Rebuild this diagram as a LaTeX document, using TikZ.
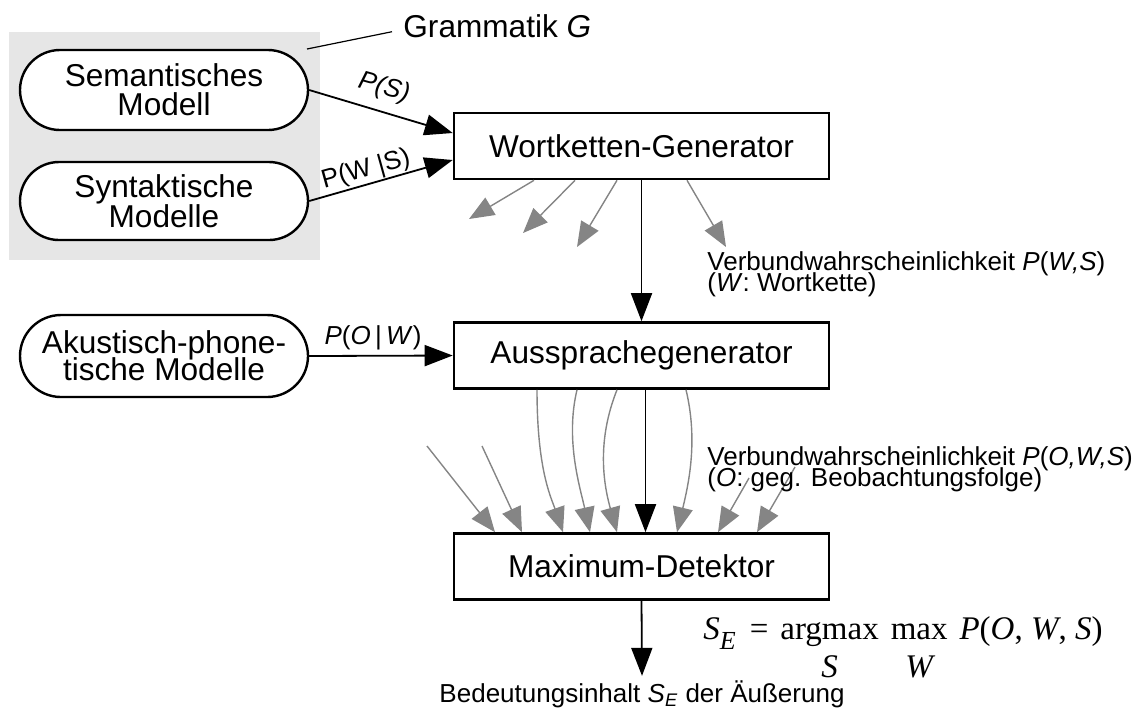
\documentclass[tikz,border=0pt]{standalone}
\usepackage{fontspec}
\setmainfont{Liberation Sans}
\newfontfamily\serifmath{Liberation Serif}
\usetikzlibrary{arrows.meta,calc,shapes.misc}
\definecolor{bggray}{HTML}{E6E6E6}
\definecolor{arrgray}{HTML}{858585}
\newcommand{\opsub}[2]{\setbox0\hbox{#1}\rlap{\hbox to \wd0{\hss\raisebox{-19pt}{\itshape #2}\hss}}\box0}
\newcommand{\tightlines}{\lineskiplimit=-30pt\lineskip=0pt}
\begin{document}
\begin{tikzpicture}[x=0.5pt,y=-0.5pt,
  model/.style={draw,fill=white,line width=1.2pt,shape=rounded rectangle,minimum width=144pt,inner sep=0pt,align=center},
  procbox/.style={draw,fill=white,line width=1.3pt,minimum width=187.5pt,minimum height=33pt,inner sep=0pt,
    font=\fontsize{15.8pt}{18pt}\selectfont},
  lbl/.style={inner sep=0pt,align=left,font=\fontsize{13pt}{10.6pt}\selectfont\tightlines},
  plabel/.style={inner sep=0pt,font=\fontsize{13pt}{15pt}\selectfont},
  blackarrow/.style={line width=0.9pt,-{Triangle[length=14pt,width=10.5pt]}},
  grayarrow/.style={draw=arrgray,line width=0.7pt,-{Triangle[length=12.5pt,width=10pt,fill=arrgray]}}]
\useasboundingbox (0,0) rectangle (1143,709);
% grammar background
\fill[bggray] (9,32) rectangle (320,260);
\node[inner sep=0pt,anchor=base west,font=\fontsize{15.8pt}{18pt}\selectfont] (gram) at (403,37) {Grammatik \textit{G}};
\coordinate (gcorner) at (307,49);
\draw[line width=0.6pt] (gcorner) -- ([xshift=-5.5pt,yshift=-3pt]gram.west);
% models
\node[model,minimum height=40pt,font=\fontsize{15.8pt}{14.5pt}\selectfont\tightlines] (sem) at (164,90) {Semantisches\\Modell};
\node[model,minimum height=39pt,font=\fontsize{15.8pt}{15pt}\selectfont\tightlines] (syn) at (164,201) {Syntaktische\\Modelle};
\node[model,minimum height=41pt,font=\fontsize{15.8pt}{13.6pt}\selectfont\tightlines] (ak) at (164,356) {Akustisch-phone-\\tische Modelle};
% process boxes
\node[procbox] (wort) at (641.5,146) {Wortketten-Generator};
\node[procbox] (aus) at (641.5,355.5) {Aussprachegenerator};
\node[procbox] (max) at (641.5,566.5) {Maximum-Detektor};
% input arrows
\draw[blackarrow] (sem.east) -- ([yshift=6.5pt]wort.west);
\draw[blackarrow] (syn.east) -- ([yshift=-7pt]wort.west);
\draw[blackarrow] (ak.east) -- (aus.west);
\node[plabel,rotate=-15.5] (ps) at (384,88) {\textit{P(S)}};
\node[plabel,rotate=15.5] (pws) at (366,170) {P(W |S)};
\node[plabel] (pow) at (373,338) {\textit{P}(\textit{O}\,|\,\textit{W})};
% main chain
\draw[blackarrow] (wort.south) -- (aus.north);
\draw[blackarrow] ([xshift=2pt]aus.south) -- ([xshift=2pt]max.north);
% gray arrows from Wortketten-Generator
\coordinate (w1) at (469,219);
\coordinate (w2) at (523,233);
\coordinate (w3) at (577,247);
\coordinate (w4) at (726,247);
\draw[grayarrow] ($(wort.south)+(-107.5,0)$) -- (w1);
\draw[grayarrow] ($(wort.south)+(-66.5,0)$) -- (w2);
\draw[grayarrow] ($(wort.south)+(-24.5,0)$) -- (w3);
\draw[grayarrow] ($(wort.south)+(45.5,0)$) -- (w4);
\node[lbl,anchor=north west] (vw1) at (707,251) {Verbundwahrscheinlichkeit \textit{P}(\textit{W,S})\\(\textit{W}: Wortkette)};
% gray curves from Aussprachegenerator
\draw[grayarrow] ($(aus.south)+(-104.5,0)$) .. controls +(0,80) and +(-12,-35) .. ($(max.north)+(-78.5,0)$);
\draw[grayarrow] ($(aus.south)+(-64.5,0)$) .. controls +(-12,50) and +(-10,-45) .. ($(max.north)+(-51.5,0)$);
\draw[grayarrow] ($(aus.south)+(-24.5,0)$) .. controls +(-20,50) and +(-14,-50) .. ($(max.north)+(-24.5,0)$);
\draw[grayarrow] ($(aus.south)+(44.5,0)$) .. controls +(12,50) and +(12,-50) .. ($(max.north)+(35.5,0)$);
% external gray arrows into Maximum-Detektor
\coordinate (x1) at (427,446);
\coordinate (x2) at (482,446);
\coordinate (x3) at (749,478);
\coordinate (x4) at (795,467);
\draw[grayarrow] (x1) -- ($(max.north)+(-146.5,0)$);
\draw[grayarrow] (x2) -- ($(max.north)+(-119.5,0)$);
\draw[grayarrow] (x3) -- ($(max.north)+(76.5,0)$);
\draw[grayarrow] (x4) -- ($(max.north)+(115.5,0)$);
\node[lbl,anchor=north west] (vw2) at (707,446) {Verbundwahrscheinlichkeit \textit{P}(\textit{O,W,S})\\(\textit{O}: geg. Beobachtungsfolge)};
% formula
\node[anchor=base west,inner sep=0pt,font=\serifmath\fontsize{16.5pt}{18pt}\selectfont] (formula) at (703,639)
  {\textit{S}\raisebox{-5pt}{\fontsize{13pt}{13pt}\selectfont\textit{E}}\hspace{7pt}=\hspace{6pt}\opsub{argmax}{S}\hspace{6pt}\opsub{max}{W}\hspace{6pt}\textit{P}(\textit{O}, \textit{W}, \textit{S})};
% output
\node[lbl,anchor=base] (meaning) at (642,702) {Bedeutungsinhalt \textit{S}\textsubscript{\textit{E}} der Äußerung};
\draw[blackarrow] (max.south) -- ([yshift=2pt]meaning.north);
\end{tikzpicture}
\end{document}
